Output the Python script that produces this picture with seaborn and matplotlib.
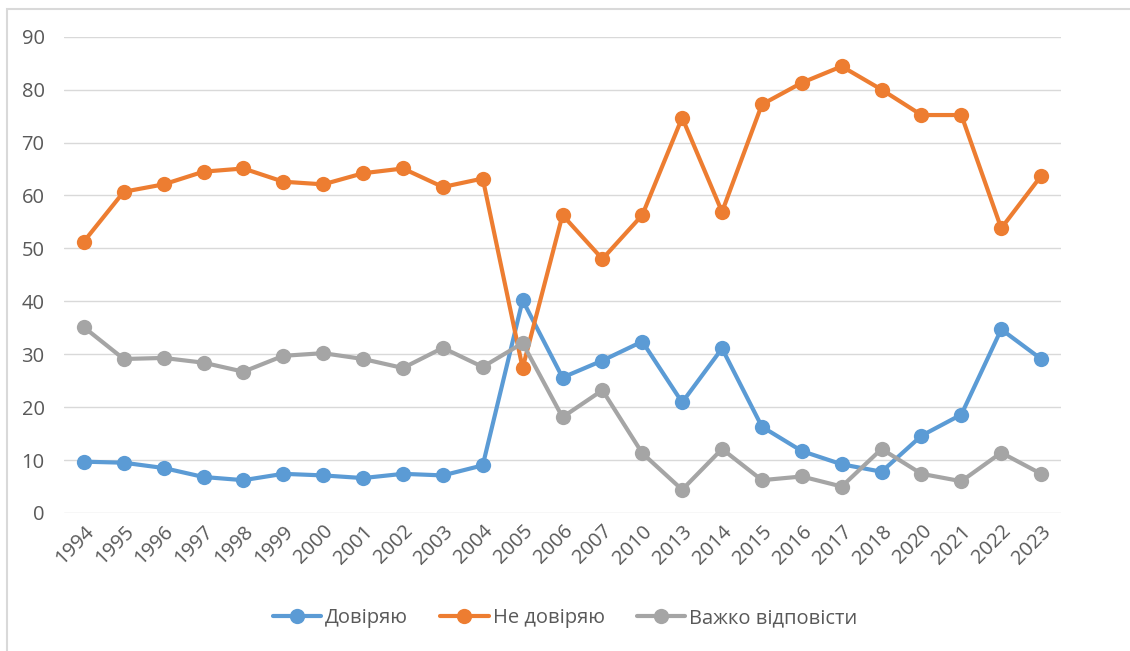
import pandas as pd
import matplotlib
matplotlib.use("Agg")
import matplotlib.pyplot as plt
import matplotlib.patches as mpatches
import seaborn as sns

# Survey years (categorical axis, not evenly spaced)
years = ["1994", "1995", "1996", "1997", "1998", "1999", "2000", "2001", "2002",
         "2003", "2004", "2005", "2006", "2007", "2010", "2013", "2014", "2015",
         "2016", "2017", "2018", "2020", "2021", "2022", "2023"]

trust = [9.7, 9.5, 8.5, 6.8, 6.2, 7.4, 7.1, 6.6, 7.4, 7.1, 9.0, 40.2,
         25.6, 28.8, 32.4, 20.9, 31.1, 16.3, 11.7, 9.2, 7.8, 14.6, 18.6, 34.7, 29.1]
distrust = [51.3, 60.7, 62.1, 64.5, 65.1, 62.6, 62.1, 64.2, 65.1, 61.6, 63.2, 27.4,
            56.3, 48.0, 56.3, 74.7, 56.9, 77.2, 81.3, 84.4, 80.0, 75.2, 75.2, 53.8, 63.7]
hard_to_say = [35.1, 29.1, 29.3, 28.4, 26.7, 29.7, 30.2, 29.1, 27.4, 31.2, 27.6, 32.1,
               18.1, 23.2, 11.3, 4.4, 12.1, 6.2, 6.9, 5.0, 12.1, 7.4, 6.0, 11.4, 7.4]

series_names = ["Довіряю", "Не довіряю", "Важко відповісти"]
colors = ["#5B9BD5", "#ED7D31", "#A5A5A5"]

sns.set_theme(style="white")
plt.rcParams["font.family"] = ["Open Sans", "DejaVu Sans"]

frames = []
for name, vals in zip(series_names, [trust, distrust, hard_to_say]):
    frames.append(pd.DataFrame({"idx": range(len(years)), "value": vals, "series": name}))
df = pd.concat(frames, ignore_index=True)

fig = plt.figure(figsize=(11.3, 6.51), dpi=100)
ax = fig.add_axes([0.0566, 0.212, 0.8824, 0.7316])

sns.lineplot(data=df, x="idx", y="value", hue="series", hue_order=series_names,
             palette=colors, marker="o", markersize=11, markeredgewidth=0,
             linewidth=3, ax=ax, legend=False)

ax.set_xlim(-0.5, len(years) - 0.5)
ax.set_ylim(0, 90)
ax.set_yticks(range(0, 91, 10))
ax.set_xticks(range(len(years)))
ax.set_xticklabels(years, rotation=45, ha="right", rotation_mode="anchor")
ax.tick_params(axis="both", colors="#595959", labelsize=14.5, length=0)
ax.tick_params(axis="x", pad=6)
ax.tick_params(axis="y", pad=14)
ax.grid(axis="y", color="#D9D9D9", linewidth=1)
ax.set_axisbelow(True)
for s in ax.spines.values():
    s.set_visible(False)
ax.set_xlabel("")
ax.set_ylabel("")

handles = [plt.Line2D([], [], color=c, marker="o", markersize=11, linewidth=3,
                      markeredgewidth=0, label=n) for c, n in zip(colors, series_names)]
fig.legend(handles=handles, loc="center", bbox_to_anchor=(0.5, 0.05), ncol=3,
           frameon=False, fontsize=14.5, handlelength=2.4, columnspacing=1.6,
           handletextpad=0.2, labelcolor="#595959")

# chart area border like in the original spreadsheet
fig.patches.append(mpatches.Rectangle((7 / 1130, -0.05), 1.0, 0.986 + 0.05,
                                      transform=fig.transFigure, fill=False,
                                      edgecolor="#D9D9D9", linewidth=1.5))

fig.savefig("out.png", dpi=100)
